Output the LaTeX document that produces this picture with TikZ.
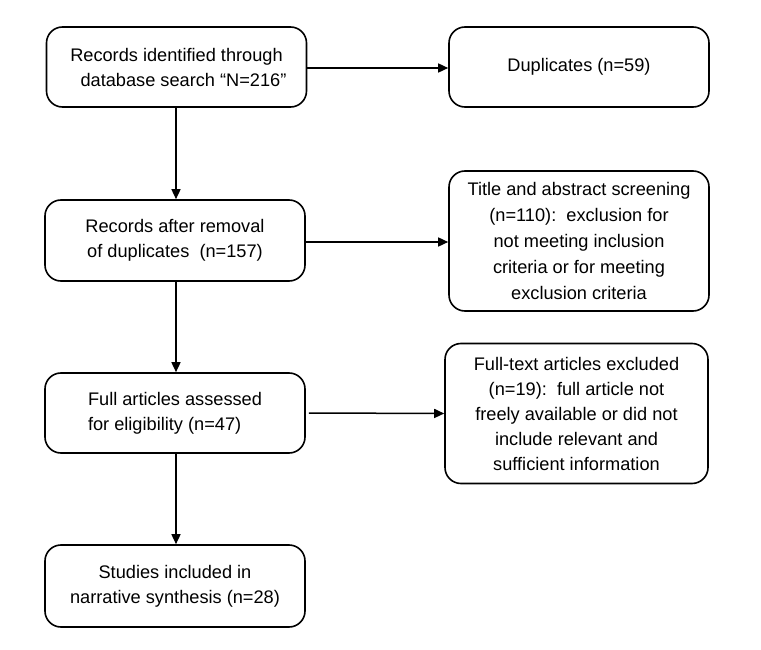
\documentclass[tikz,border=0pt]{standalone}
\usepackage{fontspec}
\setmainfont{Liberation Sans}
\usetikzlibrary{arrows.meta}
\begin{document}
\begin{tikzpicture}[x=1pt,y=-1pt,
  box/.style={draw, rounded corners=16pt, line width=1.6pt, inner sep=0pt,
    minimum width=260pt, align=center, font=\fontsize{18.2}{25}\selectfont},
  arr/.style={line width=1.5pt, -{Triangle[length=10pt,width=9pt]}}]
\useasboundingbox (0,0) rectangle (761,650);
\node[box, minimum height=80pt] (b1) at (176.5,67) {Records identified through\\\hspace*{14pt}database search “N=216”};
\node[box, minimum height=80pt] (b2) at (579,67) {Duplicates (n=59)};
\node[box, minimum height=81pt] (b3) at (175,240.5) {Records after removal\\of duplicates\ \ (n=157)};
\node[box, minimum height=140pt, font=\fontsize{18.2}{26}\selectfont] (b4) at (579,241) {Title and abstract screening\\(n=110):\ \ exclusion for\\not meeting inclusion\\criteria or for meeting\\exclusion criteria};
\node[box, minimum height=80pt, align=left] (b5) at (175,413) {Full articles assessed\\for eligibility (n=47)};
\node[box, minimum width=263pt, minimum height=140pt] (b6) at (576.5,413.5) {Full-text articles excluded\\(n=19):\ \ full article not\\freely available or did not\\include relevant and\\sufficient information};
\node[box, minimum height=82pt] (b7) at (175,586) {Studies included in\\narrative synthesis (n=28)};
\draw[arr] (b1.east |- 0,68) -- (b2.west |- 0,68);
\draw[arr] (b1.south -| 176,0) -- (b3.north -| 176,0);
\draw[arr] (b3.east |- 0,242) -- (b4.west |- 0,242);
\draw[arr] (b3.south -| 176,0) -- (b5.north -| 176,0);
\draw[arr] ([xshift=3pt]b5.east) -- (b6.west);
\draw[arr] (b5.south -| 176,0) -- (b7.north -| 176,0);
\end{tikzpicture}
\end{document}
